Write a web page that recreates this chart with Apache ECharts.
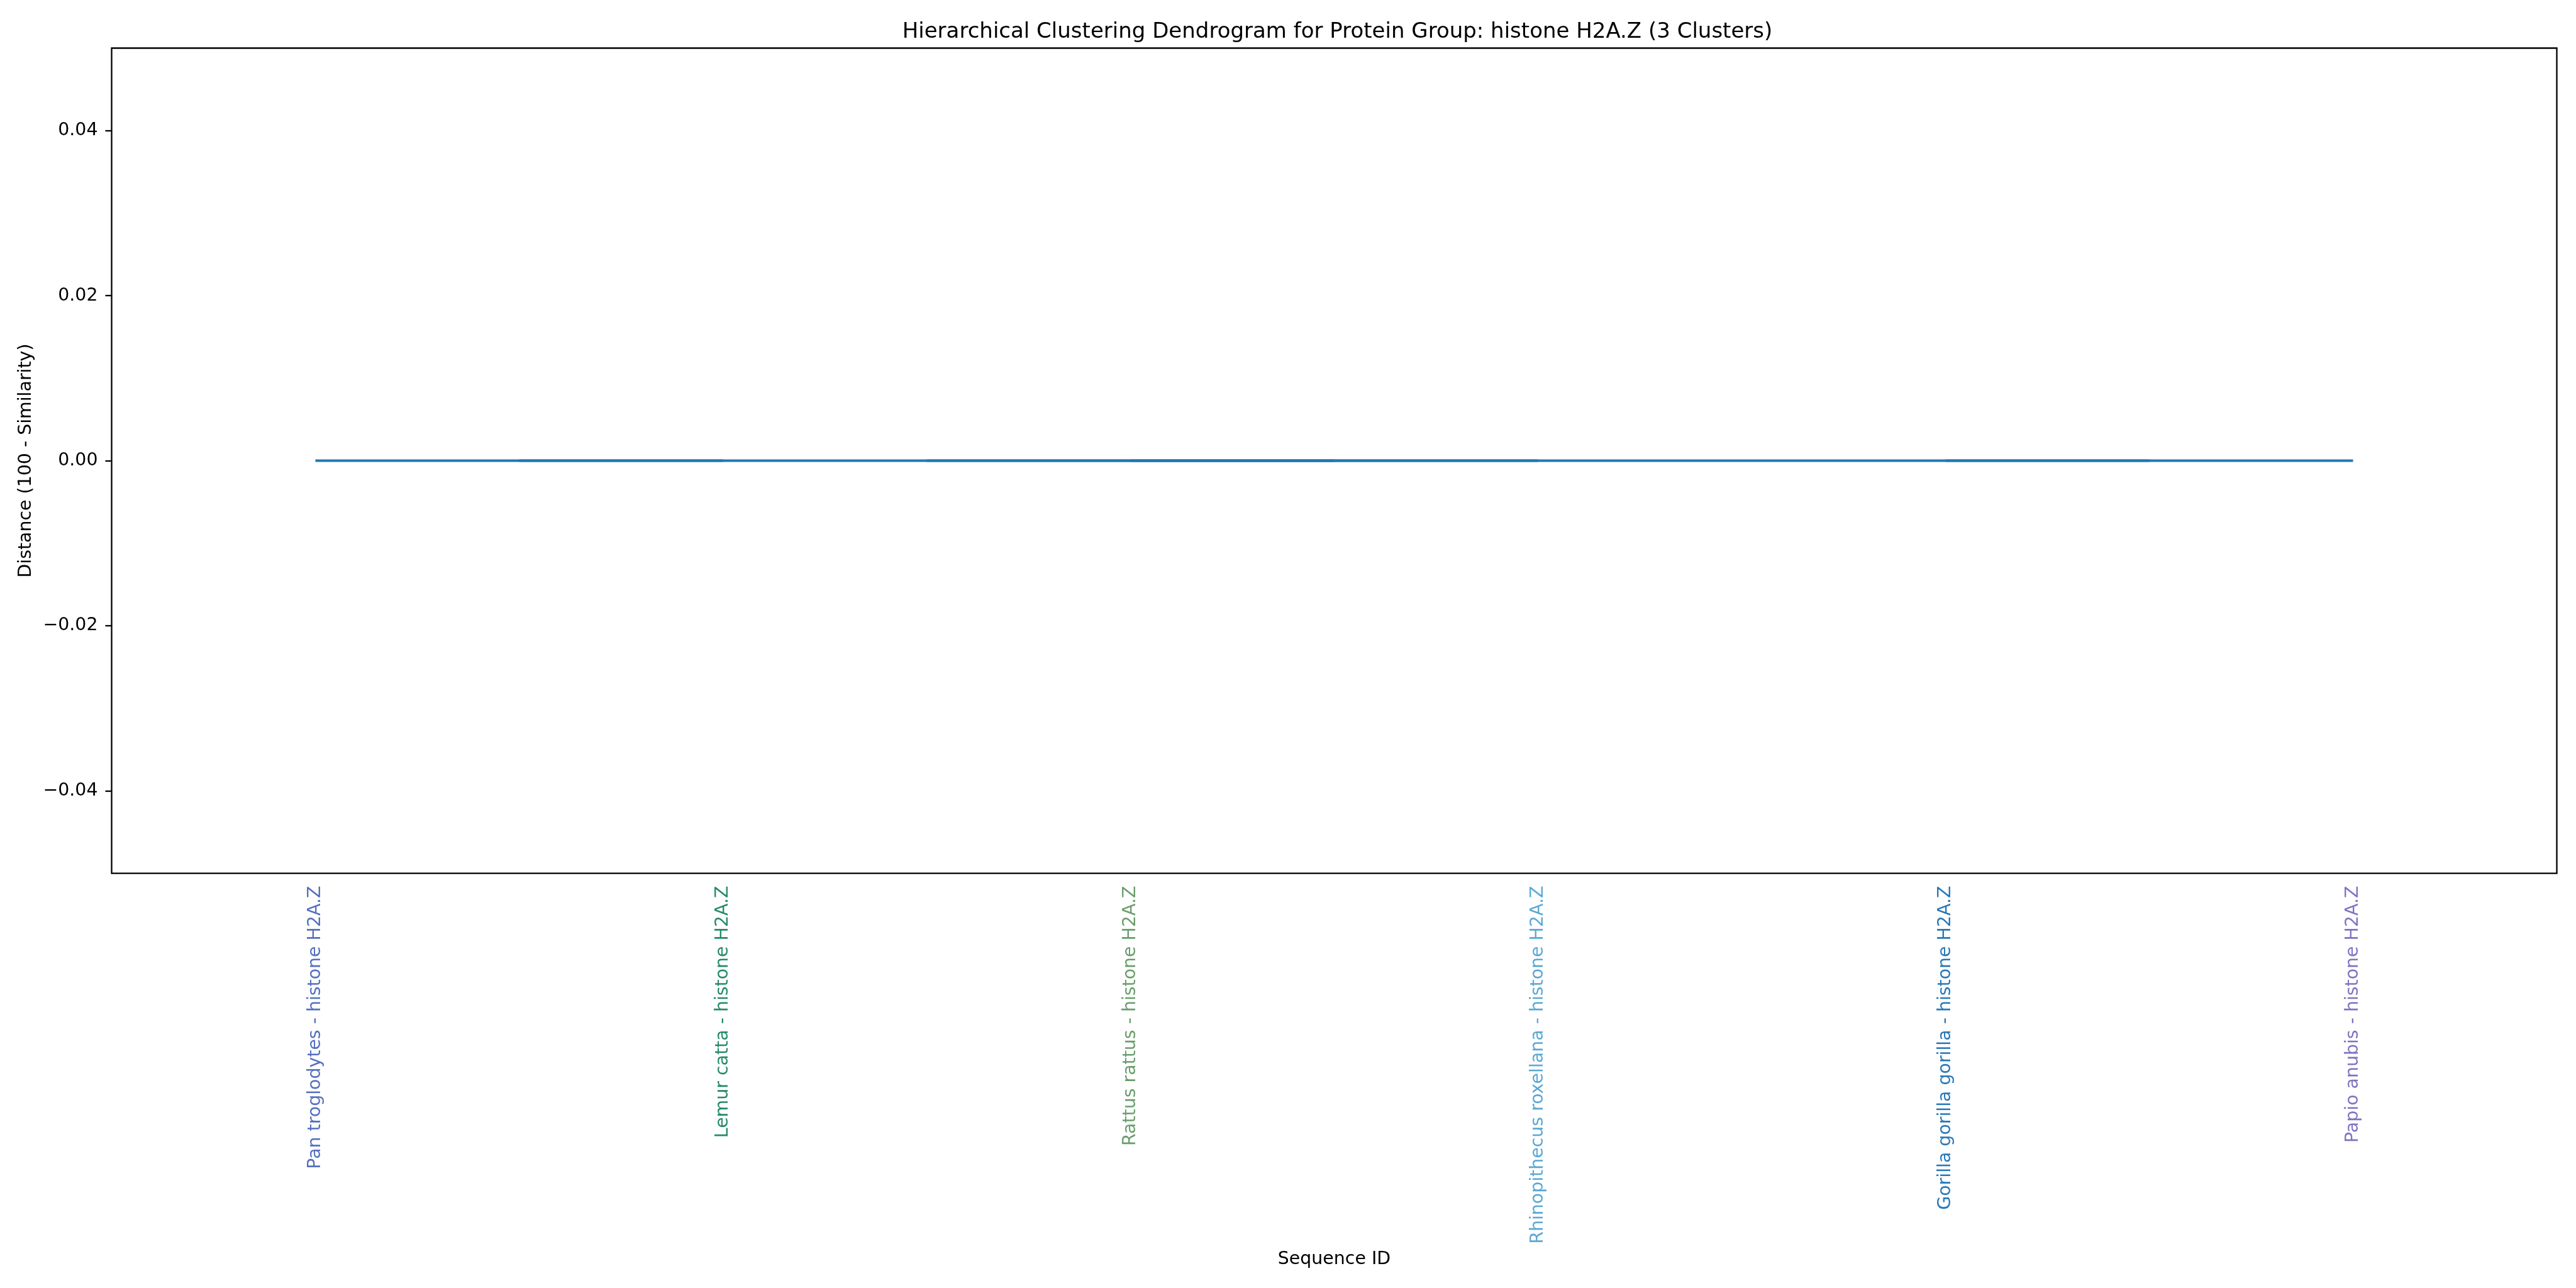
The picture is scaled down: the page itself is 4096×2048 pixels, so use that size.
<!DOCTYPE html>
<html>
<head>
<meta charset="utf-8">
<script src="https://cdn.jsdelivr.net/npm/echarts@6/dist/echarts.min.js"></script>
<style>
  html, body { margin: 0; padding: 0; background: #ffffff; }
  #chart { width: 4096px; height: 2048px; }
</style>
</head>
<body>
<div id="chart"></div>
<script>
// ---- data ----
const leaves = [
  'Pan troglodytes - histone H2A.Z',
  'Lemur catta - histone H2A.Z',
  'Rattus rattus - histone H2A.Z',
  'Rhinopithecus roxellana - histone H2A.Z',
  'Gorilla gorilla gorilla - histone H2A.Z',
  'Papio anubis - histone H2A.Z'
];
const leafColors = ['#5470c0', '#248a6c', '#6a9e6c', '#5ba8d4', '#2878b8', '#7f73c2'];
// linkage: cluster ids 0..5 are leaves, new clusters get ids 6, 7, ...
const mergeA = [0, 2, 4, 6, 9];
const mergeB = [1, 3, 5, 7, 8];
const mergeDist = [0, 0, 0, 0, 0];
const yTickValues = [-0.04, -0.02, 0.00, 0.02, 0.04];
const yMin = -0.05, yMax = 0.05;

// ---- build dendrogram links from the linkage ----
const pos = leaves.map((_, i) => i);
const hgt = leaves.map(() => 0);
const links = [];
for (let k = 0; k < mergeA.length; k++) {
  const a = mergeA[k], b = mergeB[k], d = mergeDist[k];
  links.push([[pos[a], hgt[a]], [pos[a], d], [pos[b], d], [pos[b], hgt[b]]]);
  pos.push((pos[a] + pos[b]) / 2);
  hgt.push(d);
}

const FONT = 'DejaVu Sans';
const chart = echarts.init(document.getElementById('chart'), null, { renderer: 'canvas' });

const option = {
  backgroundColor: '#ffffff',
  animation: false,
  title: {
    text: 'Hierarchical Clustering Dendrogram for Protein Group: histone H2A.Z (3 Clusters)',
    left: 2121.5,
    textAlign: 'center',
    top: 29,
    textStyle: { fontFamily: FONT, fontSize: 34, fontWeight: 'normal', color: '#000000' }
  },
  grid: {
    left: 177.5, right: 30.5, top: 76.5, bottom: 659.4,
    show: true, borderColor: '#000000', borderWidth: 2.3, backgroundColor: 'transparent'
  },
  xAxis: [
    {
      type: 'category',
      data: leaves,
      boundaryGap: true,
      name: 'Sequence ID',
      nameLocation: 'middle',
      nameGap: 600,
      nameTextStyle: { fontFamily: FONT, fontSize: 28.4, color: '#000000', verticalAlign: 'top' },
      axisLine: { show: false, onZero: false },
      axisTick: { show: false },
      splitLine: { show: false },
      axisLabel: {
        rotate: 90,
        interval: 0,
        margin: 20,
        fontFamily: FONT,
        fontSize: 28.4,
        color: (value, index) => leafColors[index]
      }
    },
    {
      type: 'value',
      min: -0.5,
      max: leaves.length - 0.5,
      show: false,
      axisLine: { onZero: false },
      splitLine: { show: false }
    }
  ],
  yAxis: {
    type: 'value',
    min: yMin,
    max: yMax,
    position: 'left',
    name: 'Distance (100 - Similarity)',
    nameLocation: 'middle',
    nameGap: 122,
    nameTextStyle: { fontFamily: FONT, fontSize: 28.4, color: '#000000' },
    axisLine: { show: false, onZero: false },
    splitLine: { show: false },
    axisTick: {
      show: true,
      length: 10,
      customValues: yTickValues,
      lineStyle: { color: '#000000', width: 2.3 }
    },
    axisLabel: {
      margin: 22,
      fontFamily: FONT,
      fontSize: 28.4,
      color: '#000000',
      customValues: yTickValues,
      formatter: v => v.toFixed(2).replace('-', '\u2212')
    }
  },
  series: links.map(pts => ({
    type: 'line',
    xAxisIndex: 1,
    data: pts,
    showSymbol: false,
    symbol: 'none',
    lineStyle: { color: '#1f77b4', width: 4 },
    silent: true
  }))
};
chart.setOption(option);
</script>
</body>
</html>
